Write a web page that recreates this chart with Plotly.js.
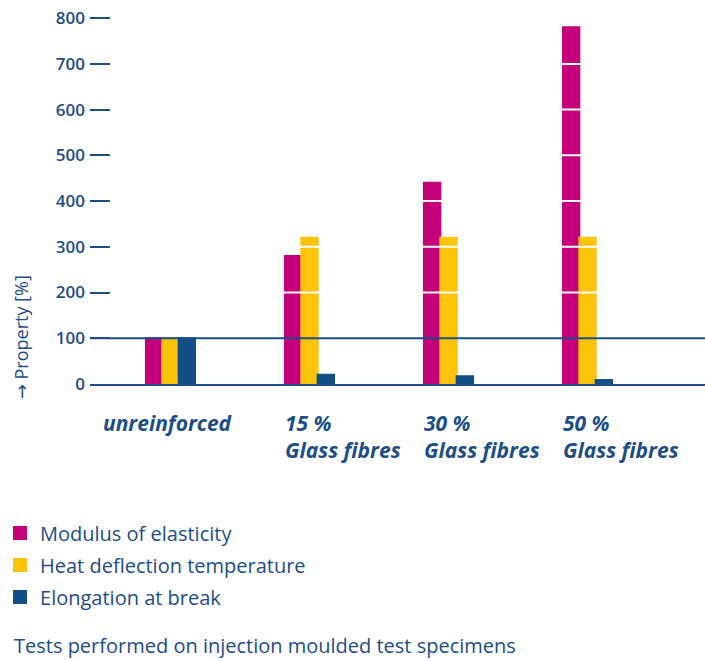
<!DOCTYPE html>
<html>
<head>
<meta charset="utf-8">
<script src="https://cdn.plot.ly/plotly-3.0.1.min.js"></script>
<style>
  html, body { margin: 0; padding: 0; background: #ffffff; }
  #chart { width: 705px; height: 661px; }
</style>
</head>
<body>
<div id="chart"></div>
<script>
// Property change of glass-fibre reinforced grades relative to the unreinforced grade (= 100 %)
const categories = ['unreinforced', '15 %<br>Glass fibres', '30 %<br>Glass fibres', '50 %<br>Glass fibres'];
const seriesNames = ['Modulus of elasticity', 'Heat deflection temperature', 'Elongation at break'];
const modulusValues = [100, 280, 440, 780];
const heatDeflectionValues = [100, 320, 320, 320];
const elongationValues = [100, 20, 17, 9];
const referenceLevel = 100;
const yTickValues = [0, 100, 200, 300, 400, 500, 600, 700, 800];
const yAxisArrow = '→';
const yAxisTitle = 'Property [%]';
const footnote = 'Tests performed on injection moulded test specimens';

const ink = '#1b4d86';
const colors = ['#c4007a', '#fcc30b', '#124f87'];
const values = [modulusValues, heatDeflectionValues, elongationValues];
const xIndex = categories.map((_, i) => i);

const traces = values.map((v, k) => ({
  type: 'bar',
  name: seriesNames[k],
  x: xIndex,
  y: v,
  legendgroup: 'g' + k,
  marker: { color: colors[k], line: { color: colors[k], width: 2 } },
  hoverinfo: 'name+y'
}));

// category labels under each bar group
const labelAnnotations = categories.map((c, i) => ({
  xref: 'x', yref: 'paper',
  x: i, y: -0.062,
  xanchor: i === 0 ? 'center' : 'left',
  xshift: i === 0 ? -2 : -27,
  yanchor: 'top',
  align: 'left',
  showarrow: false,
  text: '<b><i>' + c + '</i></b>',
  font: { family: 'Open Sans, sans-serif', size: 21, color: ink }
}));

// white grid strokes drawn across the bars at each tick level (starting after the tick marks)
const gridShapes = yTickValues.filter(v => v !== 0 && v !== referenceLevel).map(v => ({
  type: 'line', layer: 'above',
  xref: 'paper', x0: 21 / 615, x1: 1,
  yref: 'y', y0: v, y1: v,
  line: { color: '#ffffff', width: 2 }
}));

const layout = {
  width: 705,
  height: 661,
  margin: { l: 90, r: 0, t: 9, b: 277 },
  paper_bgcolor: '#ffffff',
  plot_bgcolor: '#ffffff',
  barmode: 'group',
  bargap: 0.647,
  bargroupgap: 0,
  showlegend: true,
  legend: {
    x: -0.1463, xanchor: 'left',
    y: -0.345, yanchor: 'top',
    orientation: 'v',
    tracegroupgap: 3,
    font: { family: 'Open Sans, sans-serif', size: 20, color: ink },
    bgcolor: 'rgba(0,0,0,0)'
  },
  xaxis: {
    type: 'linear',
    range: [-0.579, 3.845],
    showticklabels: false,
    ticks: '',
    showgrid: false,
    zeroline: false,
    showline: true,
    linecolor: ink,
    linewidth: 2,
    layer: 'above traces',
    fixedrange: true
  },
  yaxis: {
    range: [0, 820],
    tickvals: yTickValues,
    ticks: 'inside',
    ticklen: 20,
    tickwidth: 2,
    tickcolor: ink,
    ticklabelstandoff: 4,
    showgrid: false,
    zeroline: false,
    showline: false,
    layer: 'above traces',
    tickfont: { family: 'Open Sans, sans-serif', size: 17, weight: 600, color: ink },
    fixedrange: true
  },
  shapes: gridShapes.concat([{
    type: 'line', layer: 'above',
    xref: 'paper', x0: 0, x1: 1,
    yref: 'y', y0: referenceLevel, y1: referenceLevel,
    line: { color: ink, width: 2 }
  }]),
  annotations: labelAnnotations.concat([
    {
      xref: 'paper', yref: 'paper',
      x: -0.112, y: 0.125,
      xanchor: 'center', yanchor: 'middle',
      textangle: -90,
      showarrow: false,
      text: '<span style="font-family:\'DejaVu Sans\'">' + yAxisArrow + '</span> ' + yAxisTitle,
      font: { family: 'Open Sans, sans-serif', size: 18, color: ink }
    },
    {
      xref: 'paper', yref: 'paper',
      x: -0.1268, y: -0.698,
      xanchor: 'left', yanchor: 'middle',
      showarrow: false,
      text: footnote,
      font: { family: 'Open Sans, sans-serif', size: 20, color: ink }
    }
  ])
};

Plotly.newPlot('chart', traces, layout, { displayModeBar: false, staticPlot: true });
</script>
</body>
</html>
